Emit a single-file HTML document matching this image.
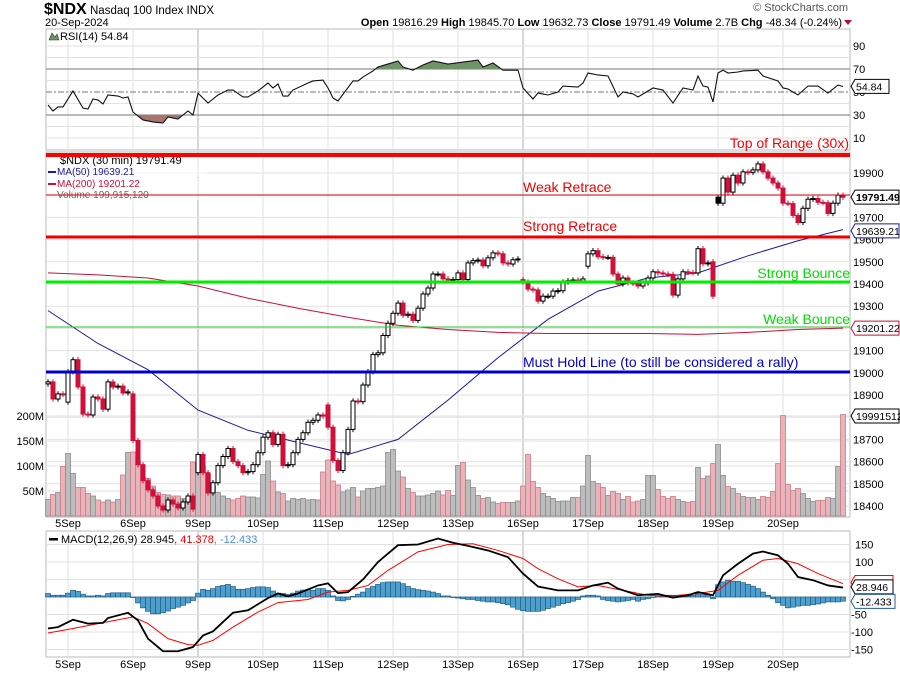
<!DOCTYPE html>
<html><head><meta charset="utf-8"><style>
html,body{margin:0;padding:0;background:#fff;}
svg{display:block;font-family:"Liberation Sans",sans-serif;}
</style></head><body>
<svg id="chart" width="900" height="673" viewBox="0 0 900 673" xmlns="http://www.w3.org/2000/svg">
<g id="hdr">
<text x="44" y="14" font-size="16" font-weight="bold">$NDX</text>
<text x="90" y="14" font-size="11.5">Nasdaq 100 Index  INDX</text>
<text x="45" y="26" font-size="11">20-Sep-2024</text>
<text x="848" y="11" font-size="11" fill="#555" text-anchor="end">© StockCharts.com</text>
<text x="842" y="26" font-size="11" text-anchor="end"><tspan font-weight="bold">Open</tspan> 19816.29  <tspan font-weight="bold">High</tspan> 19845.70  <tspan font-weight="bold">Low</tspan> 19632.73  <tspan font-weight="bold">Close</tspan> 19791.49  <tspan font-weight="bold">Volume</tspan> 2.7B  <tspan font-weight="bold">Chg</tspan> -48.34 (-0.24%)</text>
<path d="M844 20 L852 20 L848 25 Z" fill="#b0103a"/>
</g>
<g id="grid"></g>
<g id="rsi"></g>
<g id="vol"></g>
<g id="price"></g>
<g id="macd"></g>
<g id="ann"></g>
</svg>
<script>
// ---------- DATA ----------
const days = ["5Sep","6Sep","9Sep","10Sep","11Sep","12Sep","13Sep","16Sep","17Sep","18Sep","19Sep","20Sep"];
const closes = [18959,18882,18905,18903,19005,19059,18936,18814,18810,18891,18882,18836,18959,18936,18940,18909,18914,18695,18586,18514,
18473,18445,18400,18382,18427,18409,18391,18418,18445,18386,18632,18550,18459,18505,18582,18623,18659,18600,18582,18550,
18555,18586,18640,18710,18730,18677,18723,18582,18586,18640,18700,18730,18777,18786,18810,18805,18755,18605,18560,18640,
18745,18873,18870,18945,19005,19082,19090,19168,19223,19268,19314,19259,19264,19236,19291,19355,19382,19445,19445,19423,
19420,19420,19450,19420,19495,19505,19508,19482,19518,19540,19536,19495,19490,19509,19513,19409,19377,19373,19323,19345,
19345,19368,19370,19409,19415,19418,19414,19423,19536,19550,19523,19520,19520,19445,19400,19427,19405,19403,19391,19405,
19427,19455,19450,19445,19443,19350,19423,19455,19452,19450,19559,19491,19495,19345,19764,19877,19814,19890,19855,19905,
19903,19914,19941,19905,19877,19855,19832,19764,19762,19709,19677,19741,19782,19785,19768,19766,19718,19764,19800,19791];
const gapOpenIdx = [0,4,17,30,56,95,108,133,134];
const gapOpenVal = [18950,18868,18905,18550,18855,19420,19480,19500,19791];
const volumes = [33,43,47,99,125,85,57,57,45,40,32,28,32,28,33,82,127,128,110,77,
75,60,47,43,42,40,40,35,35,108,105,100,83,60,47,40,35,32,35,40,
38,38,36,83,110,70,48,45,30,35,33,35,32,33,32,88,112,70,62,48,
52,57,38,50,55,55,57,60,127,133,90,78,55,47,40,40,42,45,50,42,
51,41,101,107,72,57,41,35,37,28,25,27,27,27,30,60,123,69,57,45,
39,35,29,30,30,37,37,60,121,69,65,57,41,49,45,33,39,28,30,33,
81,81,53,39,35,39,33,29,27,29,97,75,80,105,143,81,59,55,45,39,
37,37,33,39,37,49,105,201,63,51,55,45,35,29,31,31,37,35,99,203];
const ma50Vals = [19280,19132,19014,18832,18741,18686,18632,18700,18877,19068,19241,19368,19427,19450,19527,19595,19645];
const ma200Vals = [19450,19441,19427,19391,19336,19291,19250,19214,19195,19182,19177,19177,19177,19173,19182,19195,19201];
const maBars = [0,10,20,30,40,50,60,70,80,90,100,110,120,130,140,150,159];
const rsiBars = [0,1,2,3,5,7,8,9,10,11,12,14,15,16,17,19,21,23,24,26,28,29,30,32,34,36,37,39,40,42,44,45,46,47,48,49,52,53,55,56,57,58,61,62,63,65,66,70,71,73,75,77,80,86,87,89,91,94,95,97,98,100,102,103,106,107,108,110,112,114,115,117,118,121,123,125,127,129,130,131,132,133,134,135,136,138,139,142,143,146,147,148,150,152,154,156,158,159];
const rsiVals = [38.7,33.5,37,37,50.9,36,35.2,43.9,43,39.6,47.4,46.5,44.8,45.7,32.6,25.7,24,23,28.3,26.5,33.5,30,49,40.4,47.4,51.7,51.7,45.7,45.7,50.9,57.8,53.5,57,46.5,46.5,51.7,57.8,59.6,60.4,53.5,44.8,42.2,59.6,59.6,63,68.3,71.7,77,71.7,69,73.5,77,74.3,77.8,71.7,75.2,69,69,53.5,43.9,49.1,47.4,50,55.2,54.3,57.8,66.5,64.8,63.9,45.7,50,48.3,45.7,53.5,51.7,40.4,53.5,51.7,63.9,55.2,54.3,41.3,66.5,69,66.5,67.4,68.3,69,63.9,59.6,53.5,52.6,47.4,55.2,55.2,49.1,56,54.8];
const macdBars = [0,2,5,8,11,12,16,18,20,23,26,29,31,33,37,40,44,46,48,50,54,56,58,60,63,66,70,74,78,81,84,88,92,95,98,102,106,109,112,114,118,122,125,128,130,133,135,138,141,143,146,148,150,153,156,159];
const macdVals = [-90,-86,-65,-76,-74,-60,-45,-67,-119,-155,-155,-143,-110,-98,-45,-38,-3,10,2,10,33,39,11,14,50,100,148,150,167,155,146,133,114,67,30,19,19,33,41,24,5,9,-2,5,14,5,62,95,124,130,119,95,57,48,33,27];
const sigBars = [0,5,10,17,20,24,28,30,33,37,42,46,52,56,60,64,68,74,80,85,90,95,98,102,106,110,115,120,124,130,134,138,143,146,150,154,159];
const sigVals = [-103,-90,-76,-57,-76,-119,-136,-138,-124,-86,-43,-16,-7,14,19,33,76,129,150,152,133,110,81,52,29,33,19,5,2,10,19,62,105,110,95,67,38];
const histVals = [10,5,5,5,11,19,16,8,3,3,5,3,10,12,12,12,12,0,-17,-31,
-41,-48,-48,-45,-40,-33,-29,-24,-17,-10,11,22,19,24,30,33,36,30,22,22,
24,27,29,29,27,17,11,10,7,11,17,20,21,19,24,24,19,3,-10,-11,
-7,2,8,14,24,30,36,41,43,43,43,38,30,24,21,19,17,14,10,3,
3,0,-3,-5,-7,-7,-10,-12,-14,-14,-16,-19,-22,-29,-35,-39,-41,-41,-41,-38,
-33,-29,-24,-19,-16,-12,-7,3,5,5,3,-7,-10,-12,-14,-12,-10,-7,-12,-7,
-5,0,3,3,5,5,5,5,3,5,7,7,7,-5,35,43,48,45,45,41,
36,31,24,14,5,-5,-16,-24,-31,-29,-26,-24,-24,-22,-20,-17,-14,-14,-14,-12];
const priceTicks = [19900,19700,19600,19500,19400,19300,19100,19000,18900,18800,18700,18600,18500,18400];
const volTicks = [200,150,100,50];
const rsiTicks = [90,70,50,30,10];
const macdTicks = [150,100,50,0,-50,-100,-150];

// ---------- AXES ----------
const L=46, R=850;
const NS="http://www.w3.org/2000/svg";
const xB = i => 48 + 5*i;
const yP = p => 173 + (19900-p)*0.222;
const yV = v => 516 - v*0.5;
const yR = r => 92 - (r-50)*1.15;
const yM = v => 597 - v*0.35;
function mk(tag, attrs, parent){const e=document.createElementNS(NS,tag);for(const k in attrs)e.setAttribute(k,attrs[k]);parent.appendChild(e);return e;}
function txt(parent,x,y,s,attrs){const t=mk('text',Object.assign({x:x,y:y},attrs||{}),parent);t.textContent=s;return t;}
const G=id=>document.getElementById(id);
const grid=G('grid'), rsiG=G('rsi'), volG=G('vol'), priceG=G('price'), macdG=G('macd'), ann=G('ann');
const opens = closes.map((c,i)=>{const g=gapOpenIdx.indexOf(i);return g>=0?gapOpenVal[g]:(i>0?closes[i-1]:c);});

[[29,150],[152,517],[531,657]].forEach((p,k)=>{
  const r=mk('rect',{x:L,y:p[0],width:R-L,height:p[1]-p[0],fill:'none',stroke:'#bbb','stroke-width':1},grid);
  
  
});
days.forEach((d,k)=>{
  const x=xB(4+13*k); const wk=(d==="9Sep"||d==="16Sep");
  [[29,150],[152,517],[531,657]].forEach(p=>{
    const l=mk('line',{x1:x,x2:x,y1:p[0],y2:p[1],stroke:wk?'#c4c4c4':'#e2e2e2','stroke-width':wk?1.3:1},grid);
    
    
  });
  const t1=txt(grid,x,527,d,{'font-size':11,'text-anchor':'middle'});
  
  
  const t2=txt(grid,x,668,d,{'font-size':11,'text-anchor':'middle'});
  
  
});
for(let r=10;r<=90;r+=10){
  const major=(r===70||r===30);
  const l=mk('line',{x1:L,x2:R,y1:yR(r),y2:yR(r),stroke:major?'#777':(r===50?'#777':'#e2e2e2'),'stroke-width':1},grid);
  if(r===50) l.setAttribute('stroke-dasharray','6,2,2,2');
  
  
}
rsiTicks.forEach(r=>{const t=txt(grid,853,yR(r)+4,String(r),{'font-size':11});
  
  });
priceTicks.concat([19800,19200]).forEach(p=>{
  const l=mk('line',{x1:L,x2:R,y1:yP(p),y2:yP(p),stroke:'#e2e2e2'},grid);
  
  
});
priceTicks.forEach(p=>{const t=txt(grid,853,yP(p)+4,String(p),{'font-size':11});
  
  });
volTicks.forEach(v=>{
  const l=mk('line',{x1:L,x2:R,y1:yV(v),y2:yV(v),stroke:'#e2e2e2'},grid);
  
  
  const t=txt(grid,44,yV(v)+4,v+'M',{'font-size':11,'text-anchor':'end'});
  
  
});
macdTicks.forEach(v=>{
  const l=mk('line',{x1:L,x2:R,y1:yM(v),y2:yM(v),stroke:'#e2e2e2'},grid);
  
  
  const t=txt(grid,v<0?851:855,yM(v)+4,String(v),{'font-size':11});
  
  
});

// ---------- RSI ----------
const rsiPts = rsiBars.map((b,k)=>xB(b)+','+yR(rsiVals[k])).join(' ');
const defs=mk('defs',{},rsiG);
const c1=mk('clipPath',{id:'above70'},defs); mk('rect',{x:L,y:29,width:R-L,height:yR(70)-29},c1);
const c2=mk('clipPath',{id:'below30'},defs); mk('rect',{x:L,y:yR(30),width:R-L,height:150-yR(30)},c2);
const x0=xB(rsiBars[0]), x1=xB(rsiBars[rsiBars.length-1]);
const f1=mk('polygon',{points:x0+','+yR(70)+' '+rsiPts+' '+x1+','+yR(70),fill:'#6e9468',stroke:'none','clip-path':'url(#above70)'},rsiG);


const f2=mk('polygon',{points:x0+','+yR(30)+' '+rsiPts+' '+x1+','+yR(30),fill:'#a9746e',stroke:'none','clip-path':'url(#below30)'},rsiG);


const rl=mk('polyline',{points:rsiPts,fill:'none',stroke:'#111','stroke-width':1.1},rsiG);


const rt=txt(rsiG,60,40,'RSI(14) 54.84',{'font-size':11});


const ri=mk('path',{d:'M49 40 L52 33 L55 37 L57 34 L59 40 Z',fill:'#6e9468',stroke:'#333','stroke-width':0.6},rsiG);



// ---------- VOLUME ----------
volumes.forEach((v,i)=>{
  const down = i>0 && closes[i]<closes[i-1];
  const r=mk('rect',{x:xB(i)-2.5,y:yV(v),width:5,height:516-yV(v),fill:down?'#e8b4bb':'#bdbdbd',stroke:down?'#d07a86':'#8c8c8c','stroke-width':0.8},volG);
  
  
});

// ---------- ANNOTATION LINES ----------
const lvls=[[155,'#f00',4,'top-of-range-line'],[195,'#d00',1,'weak-retrace-line'],[237,'#e00',3,'strong-retrace-line'],[282,'#0e0',3,'strong-bounce-line'],[327,'#2c2',1,'weak-bounce-line'],[372,'#00c',3,'must-hold-line']];
lvls.forEach(a=>{
  const l=mk('line',{x1:L,x2:R,y1:a[0],y2:a[0],stroke:a[1],'stroke-width':a[2]},ann);
  
  
});
[[849,148,'Top of Range (30x)','#f00','end'],[523,192,'Weak Retrace','#e00','start'],[523,231,'Strong Retrace','#e00','start'],
 [850,278,'Strong Bounce','#0d0','end'],[850,324,'Weak Bounce','#0d0','end'],[523,367,'Must Hold Line (to still be considered a rally)','#00c','start']].forEach(a=>{
  const t=txt(ann,a[0],a[1],a[2],{'font-size':14,fill:a[3],'text-anchor':a[4]});
  
  
});

// ---------- MOVING AVERAGES ----------
const m50=mk('polyline',{points:maBars.map((b,k)=>xB(b)+','+yP(ma50Vals[k])).join(' '),fill:'none',stroke:'#1a1aa0','stroke-width':1},priceG);


const m200=mk('polyline',{points:maBars.map((b,k)=>xB(b)+','+yP(ma200Vals[k])).join(' '),fill:'none',stroke:'#c8103a','stroke-width':1},priceG);



// ---------- CANDLES ----------
closes.forEach((c,i)=>{
  const o=opens[i]; const hi=Math.max(o,c)+12, lo=Math.min(o,c)-12;
  const down = i>0 && c<closes[i-1];
  const col = down?'#d0103a':'#000';
  const x=xB(i);
  const w=mk('line',{x1:x,x2:x,y1:yP(hi),y2:yP(lo),stroke:col,'stroke-width':1},priceG);
  
  
  const top=yP(Math.max(o,c)), bot=yP(Math.min(o,c));
  const filled=c<o;
  const b=mk('rect',{x:x-2,y:top,width:4,height:Math.max(1,bot-top),fill:filled?col:'#fff',stroke:col,'stroke-width':1},priceG);
  
  
});

[[60,164,'$NDX (30 min) 19791.49','#000',11],[57,175,'MA(50) 19639.21','#1a1aa0',10],[57,187,'MA(200) 19201.22','#c8103a',10],[57,198,'Volume 199,915,120','#666',10]].forEach((a,k)=>{
  const r=mk('rect',{x:L+1,y:a[1]-9,width:160,height:11,fill:'#fff','fill-opacity':0.6},priceG);
  
  
  const t=txt(priceG,a[0],a[1],a[2],{'font-size':a[4],fill:a[3]});
  
  
  if(k===1||k===2){const m=mk('rect',{x:48,y:a[1]-4,width:8,height:2,fill:a[3]},priceG);
    
    }
});

// ---------- MACD ----------
histVals.forEach((v,i)=>{
  const y=Math.min(yM(0),yM(v)); const h=Math.abs(yM(v)-yM(0));
  const r=mk('rect',{x:xB(i)-2.5,y:y,width:5,height:Math.max(0.5,h),fill:'#4f9fcc',stroke:'#1f5f8a','stroke-width':0.7},macdG);
  
  
});
const sl=mk('polyline',{points:sigBars.map((b,k)=>xB(b)+','+yM(sigVals[k])).join(' '),fill:'none',stroke:'#f00','stroke-width':1},macdG);


const ml=mk('polyline',{points:macdBars.map((b,k)=>xB(b)+','+yM(macdVals[k])).join(' '),fill:'none',stroke:'#000','stroke-width':1.8},macdG);


const mlg=txt(macdG,61,543,'',{'font-size':11});
mlg.innerHTML='MACD(12,26,9) 28.945<tspan fill="#e00">, 41.378</tspan><tspan fill="#4a8fd0">, -12.433</tspan>';


const msw=mk('rect',{x:49,y:538,width:9,height:2.5,fill:'#000'},macdG);



// ---------- VALUE TAGS ----------
function tag(y,label,col,bold,w){
  const g=mk('g',{},ann);
  
  
  mk('path',{d:`M${R+1} ${y} L${R+5} ${y-7} L${R+5+w} ${y-7} L${R+5+w} ${y+7} L${R+5} ${y+7} Z`,fill:'#fff',stroke:col,'stroke-width':1},g);
  txt(g,R+6,y+4,label,{'font-size':10.5,'font-weight':bold?'bold':'normal'});
}
tag(yR(54.84),'54.84','#000',false,34);
tag(yP(19791.49),'19791.49','#000',true,44);
tag(yP(19639.21),'19639.21','#1a1aa0',false,44);
tag(yP(19201.22),'19201.22','#c8103a',false,44);
tag(yV(199.9),'19991512','#000',false,44);
tag(yM(41.378),'41.378','#f00',false,38);
tag(yM(28.945),'28.946','#000',false,38);
tag(yM(-12.433),'-12.433','#1f5f9a',false,40);
</script>
</body></html>
